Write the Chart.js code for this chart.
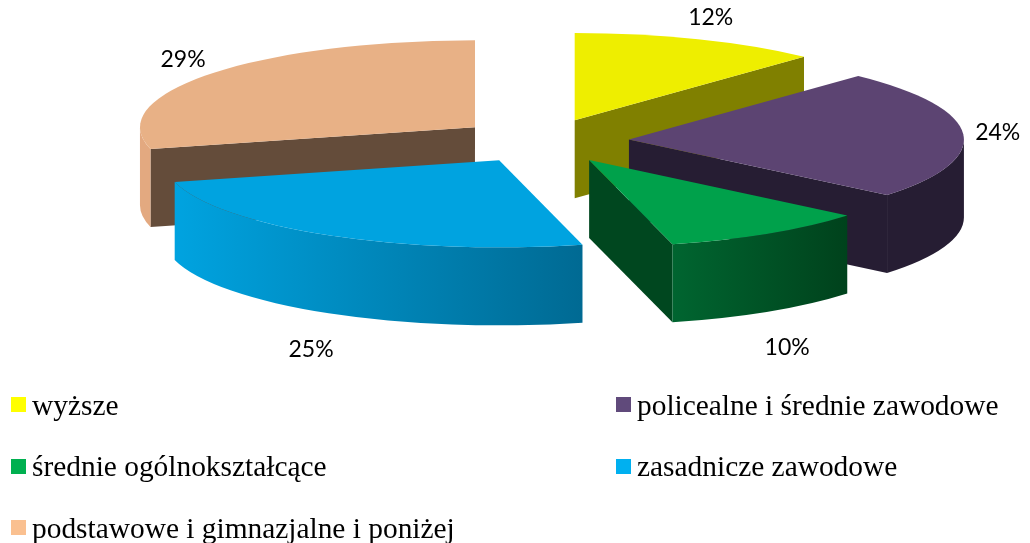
<!DOCTYPE html>
<html>
    <head>
        <meta charset="utf-8">
        <title>Wykształcenie</title>
        <script src="https://cdn.jsdelivr.net/npm/chart.js"></script>
        <style>
            body { margin: 0; background: #fff; }
            #wrap { position: relative; width: 1030px; height: 543px; overflow: hidden; }
            #myChart { position: absolute; left: 0; top: 0; }
            .sq { position: absolute; width: 15px; height: 15px; }
            .lbl { position: absolute; font-family: "Liberation Serif", "Times New Roman", serif;
                   font-size: 29.4px; line-height: 29px; color: #000; white-space: nowrap; }
        </style>
        <script type="text/javascript">
            // values
            const categories = ['wyższe', 'policealne i średnie zawodowe', 'średnie ogólnokształcące',
                                'zasadnicze zawodowe', 'podstawowe i gimnazjalne i poniżej'];
            const shares = [12, 24, 10, 25, 29];
            const legendColors = ['#ffff00', '#604a7b', '#00b050', '#00b0f0', '#fac090'];
            const topColors = ['#eeee00', '#5c4472', '#00a14b', '#00a3e0', '#e8b186'];
            const cutColors = ['#808000', '#261d33', '#00471f', '#005f85', '#644c3a'];
            const wallColors = [['#808000', '#808000'], ['#261d33', '#261d33'], ['#006530', '#00421c'],
                                ['#00a3e0', '#006a93'], ['#e3a980', '#e3a980']];

            // look of the fake 3d pie
            const RADIUS = 335;      // screen radius, horizontal
            const TILT = 0.26;       // vertical squash
            const DEPTH = 78;        // height of the side walls
            const EXPLODE = 0.257;   // slice pull-out, part of radius

            document.addEventListener('DOMContentLoaded', init);

            const pie3d = {
                id: 'pie3d',
                beforeDatasetsDraw(chart) {
                    const ctx = chart.ctx;
                    const arcs = chart.getDatasetMeta(0).data;
                    const rx = RADIUS, ry = RADIUS * TILT;
                    let slices = arcs.map(function (arc, i) {
                        const mid = (arc.startAngle + arc.endAngle) / 2;
                        return {
                            i: i, a0: arc.startAngle, a1: arc.endAngle, mid: mid,
                            cx: arc.x, cy: arc.y,
                            ox: arc.x + Math.cos(mid) * EXPLODE * rx,
                            oy: arc.y + Math.sin(mid) * EXPLODE * ry
                        };
                    });
                    // back to front
                    slices.sort(function (a, b) { return a.oy - b.oy; });
                    ctx.save();
                    slices.forEach(function (s) {
                        const px = function (a) { return s.ox + Math.cos(a) * rx; };
                        const py = function (a) { return s.oy + Math.sin(a) * ry; };
                        // cut faces
                        [[s.a0, Math.cos(s.a0) < -1e-6], [s.a1, Math.cos(s.a1) > 1e-6]].forEach(function (f) {
                            if (!f[1]) return;
                            ctx.beginPath();
                            ctx.moveTo(s.ox, s.oy);
                            ctx.lineTo(px(f[0]), py(f[0]));
                            ctx.lineTo(px(f[0]), py(f[0]) + DEPTH);
                            ctx.lineTo(s.ox, s.oy + DEPTH);
                            ctx.closePath();
                            ctx.fillStyle = cutColors[s.i];
                            ctx.fill();
                        });
                        // outer wall, front half only
                        const b0 = Math.max(s.a0, 0), b1 = Math.min(s.a1, Math.PI);
                        if (b1 > b0) {
                            const g = ctx.createLinearGradient(px(b1), 0, px(b0), 0);
                            g.addColorStop(0, wallColors[s.i][0]);
                            g.addColorStop(1, wallColors[s.i][1]);
                            ctx.beginPath();
                            ctx.ellipse(s.ox, s.oy, rx, ry, 0, b0, b1);
                            ctx.ellipse(s.ox, s.oy + DEPTH, rx, ry, 0, b1, b0, true);
                            ctx.closePath();
                            ctx.fillStyle = g;
                            ctx.fill();
                        }
                        // top face
                        ctx.beginPath();
                        ctx.moveTo(s.ox, s.oy);
                        ctx.ellipse(s.ox, s.oy, rx, ry, 0, s.a0, s.a1);
                        ctx.closePath();
                        ctx.fillStyle = topColors[s.i];
                        ctx.fill();
                    });
                    // percent labels
                    ctx.font = '23px Lato';
                    ctx.fillStyle = '#000';
                    ctx.textAlign = 'center';
                    ctx.textBaseline = 'middle';
                    slices.forEach(function (s) {
                        const c = Math.cos(s.mid), n = Math.sin(s.mid);
                        const x = s.cx + c * rx * 1.36;
                        let y = s.cy + n * ry * 1.52;
                        if (n > 0) y += DEPTH + 17;
                        ctx.fillText(chart.data.datasets[0].data[s.i] + '%', x, y);
                    });
                    ctx.restore();
                    return false;
                }
            };

            function makeLegend(chart) {
                const wrap = document.getElementById('wrap');
                chart.data.labels.forEach(function (name, i) {
                    const col = i % 2, row = Math.floor(i / 2);
                    const left = 11 + col * 605, top = 397 + row * 61.5;
                    const sq = document.createElement('div');
                    sq.className = 'sq';
                    sq.style.left = left + 'px';
                    sq.style.top = top + 'px';
                    sq.style.background = legendColors[i];
                    const t = document.createElement('div');
                    t.className = 'lbl';
                    t.style.left = (left + 21) + 'px';
                    t.style.top = (top - 6.3) + 'px';
                    t.textContent = name;
                    wrap.appendChild(sq);
                    wrap.appendChild(t);
                });
            }

            function init() {
                const ctx = document.getElementById('myChart').getContext('2d');
                const chart = new Chart(ctx, {
                    type: 'pie',
                    data: {
                        labels: categories,
                        datasets: [{
                            data: shares,
                            backgroundColor: legendColors,
                            borderWidth: 0
                        }]
                    },
                    options: {
                        responsive: false,
                        animation: false,
                        layout: { padding: { left: 56, right: 0, top: 0, bottom: 261 } },
                        plugins: { legend: { display: false }, tooltip: { enabled: false } }
                    },
                    plugins: [pie3d]
                });
                makeLegend(chart);
            }
        </script>
    </head>
    <body>
        <div id="wrap">
            <canvas id="myChart" width="1030" height="543"></canvas>
        </div>
    </body>
</html>
